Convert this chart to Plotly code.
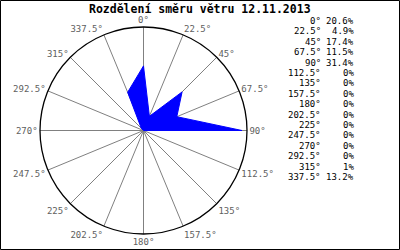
import plotly.graph_objects as go

title = "Rozdělení směru větru 12.11.2013"
directions = [0, 22.5, 45, 67.5, 90, 112.5, 135, 157.5, 180, 202.5, 225, 247.5, 270, 292.5, 315, 337.5]
percent = [20.6, 4.9, 17.4, 11.5, 31.4, 0, 0, 0, 0, 0, 0, 0, 0, 0, 1, 13.2]
radial_max = 33

W, H = 400, 250
mono = "DejaVu Sans Mono"

dir_labels = [f"{d:g}°" for d in directions]
pct_labels = [f"{p:g}%" for p in percent]

fig = go.Figure()
fig.add_trace(go.Scatterpolar(
    r=percent + [percent[0]],
    theta=directions + [directions[0]],
    mode="lines",
    fill="toself",
    fillcolor="#0000ff",
    line=dict(color="#0000ff", width=1),
    hoverinfo="skip",
    showlegend=False,
))

# polar domain in pixels
cx, cy, R = 143.5, 130.5, 103.5
x0, x1 = (cx - R) / W, (cx + R) / W
y0, y1 = (H - (cy + R)) / H, (H - (cy - R)) / H

fig.update_layout(
    width=W, height=H,
    margin=dict(l=0, r=0, t=0, b=0),
    paper_bgcolor="white",
    plot_bgcolor="white",
    showlegend=False,
    polar=dict(
        domain=dict(x=[x0, x1], y=[y0, y1]),
        bgcolor="white",
        radialaxis=dict(range=[0, radial_max], visible=False, showgrid=False),
        angularaxis=dict(
            rotation=90, direction="clockwise",
            tickmode="array", tickvals=directions, ticktext=dir_labels,
            showgrid=True, gridcolor="#808080", gridwidth=1,
            showline=True, linecolor="black", linewidth=1.3,
            ticks="", tickfont=dict(family=mono, size=9, color="#606060"),
        ),
    ),
    annotations=[
        dict(text=f"<b>{title}</b>", x=200 / W, y=1 - 8.5 / H, xref="paper", yref="paper",
             xanchor="center", yanchor="middle", showarrow=False,
             font=dict(family=mono, size=11.5, color="black")),
    ],
)

row0, step = 21, 10.4
for i, (dl, pl) in enumerate(zip(dir_labels, pct_labels)):
    yy = 1 - (row0 + i * step) / H
    fig.add_annotation(text=dl, x=323 / W, y=yy, xref="paper", yref="paper",
                       xanchor="right", yanchor="middle", showarrow=False,
                       font=dict(family=mono, size=9, color="black"))
    fig.add_annotation(text=pl, x=356 / W, y=yy, xref="paper", yref="paper",
                       xanchor="right", yanchor="middle", showarrow=False,
                       font=dict(family=mono, size=9, color="black"))

fig.add_shape(type="rect", xref="paper", yref="paper",
              x0=0.5 / W, y0=0.5 / H, x1=1 - 0.5 / W, y1=1 - 0.5 / H,
              line=dict(color="black", width=1))

fig.write_html("out.html")
